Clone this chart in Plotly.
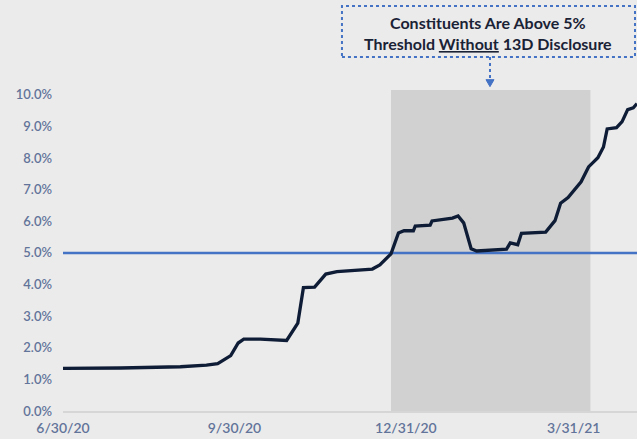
import plotly.graph_objects as go

# Share of index constituents held above the 5% ownership level
dates = [
    "2020-06-30", "2020-07-31", "2020-09-01", "2020-09-15", "2020-09-21",
    "2020-09-28", "2020-10-02", "2020-10-05", "2020-10-14", "2020-10-28",
    "2020-11-03", "2020-11-06", "2020-11-12", "2020-11-18", "2020-11-24",
    "2020-12-04", "2020-12-13", "2020-12-17", "2020-12-23", "2020-12-27",
    "2020-12-30", "2021-01-04", "2021-01-05", "2021-01-13", "2021-01-14",
    "2021-01-25", "2021-01-28", "2021-01-31", "2021-02-04", "2021-02-07",
    "2021-02-23", "2021-02-25", "2021-03-01", "2021-03-03", "2021-03-16",
    "2021-03-21", "2021-03-24", "2021-03-28", "2021-04-04", "2021-04-08",
    "2021-04-13", "2021-04-16", "2021-04-18", "2021-04-23", "2021-04-26",
    "2021-04-29", "2021-05-02", "2021-05-04",
]
values = [
    1.35, 1.36, 1.40, 1.45, 1.50,
    1.75, 2.15, 2.27, 2.27, 2.23,
    2.78, 3.90, 3.92, 4.33, 4.41,
    4.46, 4.49, 4.62, 4.97, 5.63,
    5.70, 5.70, 5.85, 5.88, 6.01,
    6.10, 6.17, 5.95, 5.13, 5.06,
    5.12, 5.32, 5.26, 5.62, 5.66,
    6.02, 6.57, 6.75, 7.25, 7.72,
    8.01, 8.35, 8.92, 8.96, 9.15,
    9.53, 9.59, 9.72,
]

threshold = 5.0
tick_dates = ["2020-06-30", "2020-09-30", "2020-12-31", "2021-03-31"]
tick_labels = ["6/30/20", "9/30/20", "12/31/20", "3/31/21"]
y_ticks = [0, 1, 2, 3, 4, 5, 6, 7, 8, 9, 10]
y_labels = [f"{v:.1f}%" for v in y_ticks]
window_start, window_end = "2020-12-23", "2021-04-09"
window_top = 10.15
x_range = ["2020-06-30", "2021-05-04"]
callout_lines = [
    "<b>Constituents Are Above 5%</b>",
    "<b>Threshold <u>Without</u> 13D Disclosure</b>",
]

BG = "#ECEBEB"
NAVY = "#0E1C36"
BLUE = "#4472C4"
TICK = "#62749A"
TITLE = "#1A2236"

fig = go.Figure()

# Threshold line
fig.add_trace(go.Scatter(
    x=x_range, y=[threshold, threshold], mode="lines",
    line=dict(color=BLUE, width=2.5), hoverinfo="skip", showlegend=False,
))

fig.add_trace(go.Scatter(
    x=dates, y=values, mode="lines",
    line=dict(color=NAVY, width=3.3), showlegend=False,
))

shapes = [
    # highlighted window
    dict(type="rect", xref="x", yref="y", x0=window_start, x1=window_end,
         y0=0, y1=window_top, fillcolor="#D1D1D1", line=dict(width=0),
         layer="below"),
    # dotted callout box
    dict(type="rect", xref="paper", yref="paper", x0=0.486, x1=0.9965,
         y0=1.0663, y1=1.2199, line=dict(color=BLUE, width=2, dash="dot"),
         fillcolor="rgba(0,0,0,0)"),
    # dotted connector
    dict(type="line", xref="paper", yref="paper", x0=0.7439, x1=0.7439,
         y0=1.0663, y1=0.996, line=dict(color=BLUE, width=2, dash="dot")),
    # arrow head
    dict(type="path", xref="paper", yref="paper",
         path="M 0.7369,0.998 L 0.7509,0.998 L 0.7439,0.977 Z",
         fillcolor=BLUE, line=dict(color=BLUE, width=1)),
]

annotations = [
    dict(xref="paper", yref="paper", x=0.7411, y=yy,
         xanchor="center", yanchor="middle", showarrow=False, text=t,
         font=dict(family="Lato", size=16, color=TITLE, weight=900))
    for t, yy in zip(callout_lines, [1.1687, 1.1084])
]

fig.update_layout(
    width=637, height=439,
    margin=dict(l=63, r=0, t=79, b=28),
    paper_bgcolor=BG, plot_bgcolor=BG,
    font=dict(family="Lato", color=TICK),
    shapes=shapes,
    annotations=annotations,
    xaxis=dict(
        type="date", range=x_range, tickmode="array",
        tickvals=tick_dates, ticktext=tick_labels,
        showgrid=False, zeroline=False, showline=True,
        linecolor="#D6D6D6", linewidth=1.5, ticks="",
        tickfont=dict(size=14, color=TICK, weight=600), ticklabelstandoff=3,
    ),
    yaxis=dict(
        range=[0, 10.5], tickmode="array", tickvals=y_ticks, ticktext=y_labels,
        showgrid=False, zeroline=False, showline=False, ticks="",
        tickfont=dict(size=13, color=TICK, weight=600), ticklabelstandoff=10,
    ),
)

fig.write_html("out.html")
